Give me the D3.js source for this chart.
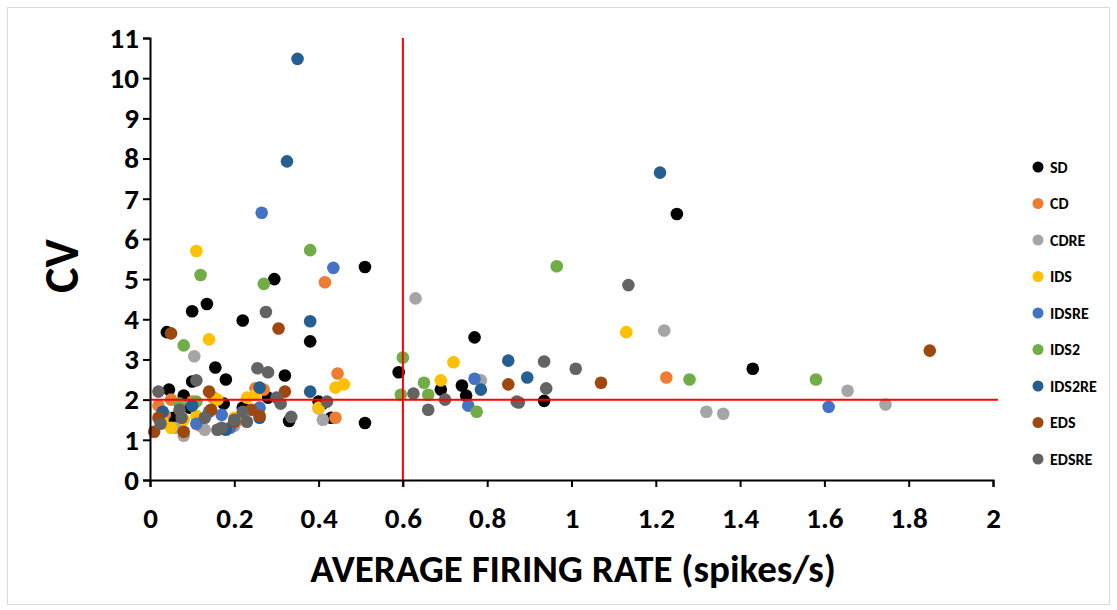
<!DOCTYPE html>
<html>
<head>
<meta charset="utf-8">
<script src="https://cdn.jsdelivr.net/npm/d3@7"></script>
<style>
  body { margin: 0; background: #fff; }
  text { font-family: Carlito, "Liberation Sans Narrow", "Liberation Sans", Arial, sans-serif; font-weight: bold; }
</style>
</head>
<body>
<div id="chart"></div>
<script>
// Series data: [average firing rate, CV]
const SD = [[0.04,3.68],[0.10,4.2],[0.135,4.38],[0.22,3.97],[0.295,5.0],[0.51,5.3],[0.38,3.45],[0.32,2.6],
  [0.77,3.55],[1.25,6.62],[1.43,2.77],[0.935,1.97],[0.59,2.68],[0.69,2.25],[0.74,2.35],[0.75,2.1],
  [0.51,1.42],[0.33,1.47],[0.43,1.55],[0.045,2.25],[0.08,2.1],[0.10,2.45],[0.155,2.8],[0.18,2.5],
  [0.175,1.9],[0.095,1.8],[0.22,1.8],[0.40,1.95],[0.41,1.9],[0.055,1.55],[0.28,2.05]];
const CD = [[0.415,4.92],[0.445,2.65],[0.44,1.55],[1.225,2.55],[0.25,2.28],[0.27,2.25],[0.02,1.85],
  [0.035,1.62],[0.10,1.95],[0.05,2.0],[0.15,2.05],[0.21,1.5],[0.12,1.35]];
const CDRE = [[0.63,4.52],[1.22,3.72],[0.105,3.08],[1.32,1.7],[1.36,1.65],[1.655,2.22],[1.745,1.88],
  [0.785,2.48],[0.41,1.5],[0.08,1.1],[0.13,1.25],[0.20,1.35],[0.40,1.78],[0.06,1.3]];
const IDS = [[0.11,5.7],[0.14,3.5],[1.13,3.68],[0.72,2.93],[0.69,2.48],[0.44,2.3],[0.46,2.38],
  [0.40,1.8],[0.16,2.0],[0.23,2.05],[0.05,1.3],[0.08,1.5],[0.11,1.6],[0.20,1.55],[0.25,2.12],[0.03,1.45]];
const IDSRE = [[0.265,6.65],[0.435,5.28],[0.77,2.52],[0.755,1.85],[1.61,1.82],[0.17,1.62],[0.19,1.3],
  [0.14,1.7],[0.26,1.8],[0.11,1.4]];
const IDS2 = [[0.38,5.72],[0.12,5.1],[0.27,4.88],[0.08,3.35],[0.60,3.05],[0.965,5.32],[1.28,2.5],
  [1.58,2.5],[0.65,2.42],[0.595,2.12],[0.66,2.12],[0.775,1.7],[0.07,1.9],[0.11,1.95]];
const IDS2RE = [[0.35,10.48],[0.325,7.93],[1.21,7.65],[0.38,3.95],[0.85,2.97],[0.895,2.55],[0.785,2.25],
  [0.38,2.2],[0.26,1.55],[0.03,1.7],[0.10,1.85],[0.18,1.25],[0.26,2.3]];
const EDS = [[0.05,3.65],[0.305,3.77],[1.85,3.22],[1.07,2.42],[0.85,2.38],[0.01,1.2],[0.02,1.55],
  [0.14,2.2],[0.145,1.75],[0.20,1.45],[0.24,1.75],[0.32,2.2],[0.08,1.2],[0.26,1.6]];
const EDSRE = [[0.625,2.15],[1.135,4.85],[0.275,4.18],[0.255,2.78],[0.28,2.68],[0.935,2.95],[1.01,2.77],
  [0.94,2.28],[0.87,1.95],[0.875,1.93],[0.66,1.75],[0.70,2.0],[0.42,1.95],[0.335,1.57],[0.02,2.2],
  [0.025,1.4],[0.075,1.55],[0.11,2.48],[0.13,1.55],[0.16,1.25],[0.20,1.5],[0.22,1.7],[0.23,1.45],
  [0.30,2.05],[0.31,1.9],[0.07,1.75],[0.17,1.3]];

const seriesNames = ["SD", "CD", "CDRE", "IDS", "IDSRE", "IDS2", "IDS2RE", "EDS", "EDSRE"];
const seriesData = [SD, CD, CDRE, IDS, IDSRE, IDS2, IDS2RE, EDS, EDSRE];
const seriesColors = ["#000000", "#ED7D31", "#A5A5A5", "#FFC000", "#4472C4", "#70AD47", "#255E91", "#9E480E", "#636363"];

const xTicks = [0, 0.2, 0.4, 0.6, 0.8, 1, 1.2, 1.4, 1.6, 1.8, 2];
const yTicks = [0, 1, 2, 3, 4, 5, 6, 7, 8, 9, 10, 11];
const xCut = 0.6;  // red vertical line
const yCut = 2;    // red horizontal line

const width = 1117;
const height = 610;

const svg = d3.select("#chart")
  .append("svg")
  .attr("width", width)
  .attr("height", height);

// outer frame
svg.append("rect")
  .attr("x", 7.5).attr("y", 7.5)
  .attr("width", 1102).attr("height", 597)
  .attr("fill", "#fff")
  .attr("stroke", "#d9d9d9");

const xScale = d3.scaleLinear().domain([0, 2]).range([150, 993]);
const yScale = d3.scaleLinear().domain([0, 11]).range([480, 38]);

// points, series drawn in order so the last one is on top
seriesData.forEach((data, i) => {
  svg.append("g")
    .selectAll("circle")
    .data(data)
    .enter()
    .append("circle")
    .attr("cx", d => xScale(d[0]))
    .attr("cy", d => yScale(d[1]))
    .attr("r", 6.3)
    .attr("fill", seriesColors[i]);
});

// red threshold lines
svg.append("line")
  .attr("x1", xScale(xCut)).attr("x2", xScale(xCut))
  .attr("y1", yScale(11)).attr("y2", yScale(0) + 7)
  .attr("stroke", "#ff0000").attr("stroke-width", 2);

svg.append("line")
  .attr("x1", xScale(0)).attr("x2", xScale(2) + 5)
  .attr("y1", yScale(yCut)).attr("y2", yScale(yCut))
  .attr("stroke", "#ff0000").attr("stroke-width", 2);

// X-Achse
const xAxis = svg.append("g")
  .attr("transform", `translate(0,${yScale(0)})`)
  .call(d3.axisBottom(xScale).tickValues(xTicks).tickSize(7).tickPadding(20).tickFormat(d3.format("")));

// Y-Achse
const yAxis = svg.append("g")
  .attr("transform", `translate(${xScale(0)},0)`)
  .call(d3.axisLeft(yScale).tickValues(yTicks).tickSize(7).tickPadding(4));

[xAxis, yAxis].forEach(ax => {
  ax.select(".domain").attr("stroke", "#000").attr("stroke-width", 2);
  ax.selectAll(".tick line").attr("stroke", "#000").attr("stroke-width", 2);
  ax.selectAll(".tick text").attr("fill", "#000").style("font-size", "29px");
});

// axis titles
svg.append("text")
  .attr("x", 573).attr("y", 582)
  .attr("text-anchor", "middle")
  .style("font-size", "39px")
  .text("AVERAGE FIRING RATE (spikes/s)");

svg.append("text")
  .attr("transform", "translate(78,266) rotate(-90)")
  .attr("text-anchor", "middle")
  .style("font-size", "48px")
  .text("CV");

// legend
const legend = svg.append("g")
  .selectAll("g")
  .data(seriesNames)
  .enter()
  .append("g")
  .attr("transform", (d, i) => `translate(1038,${167 + i * 36.5})`);

legend.append("circle")
  .attr("r", 5.5)
  .attr("fill", (d, i) => seriesColors[i]);

legend.append("text")
  .attr("x", 12)
  .attr("dy", "0.35em")
  .style("font-size", "16px")
  .text(d => d);
</script>
</body>
</html>
